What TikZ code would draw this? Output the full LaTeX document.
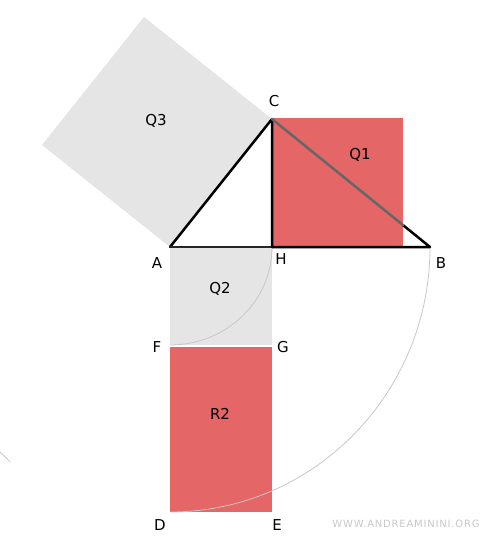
\documentclass[tikz,border=0pt]{standalone}
\usepackage{fontspec}
\setmainfont{DejaVu Sans}
\newfontfamily\wmfont[LetterSpace=8]{DejaVu Sans}
\definecolor{qred}{HTML}{E46666}
\definecolor{qgray}{HTML}{E5E5E5}
\definecolor{arcgray}{HTML}{C8C8C8}
\definecolor{wmgray}{HTML}{C8C8C8}
\begin{document}
\begin{tikzpicture}[x=1pt,y=-1pt,
  lbl/.style={font=\fontsize{15}{18}\selectfont, inner sep=0pt},
  tri/.style={line width=2.5pt, black, line cap=round, line join=round},
  arcline/.style={arcgray, line width=0.8pt}]
\useasboundingbox (0,0) rectangle (500,540);
% points
\coordinate (A) at (170,247);
\coordinate (B) at (430,247);
\coordinate (C) at (272,119);
\coordinate (H) at (272,247);
\coordinate (F) at (170,345);
\coordinate (G) at (272,345);
\coordinate (D) at (170,512);
\coordinate (E) at (272,512);
\coordinate (Q3a) at (42,145);
\coordinate (Q3b) at (144,17);
\coordinate (P) at (403,225.1);
\coordinate (K1) at (0,452);
\coordinate (K2) at (10,462);
% squares
\fill[qgray] (A) -- (Q3a) -- (Q3b) -- (C) -- cycle;
\fill[qred] (272,118) rectangle (403,247);
\fill[qgray] (170,248) rectangle (G);
\fill[qred] (170,347) rectangle (E);
% arcs
\draw[arcline] (H) arc[start angle=0, end angle=-90, x radius=102, y radius=-98];
\draw[arcline] (B) arc[start angle=0, end angle=-90, x radius=260, y radius=-265];
\draw[arcline] (K1) to[bend left=3] (K2);
% triangle
\draw[tri] (A) -- (C) -- (H);
\draw[tri, black!85] (A) -- (H);
\draw[tri] (H) -- (B) -- (P);
\draw[tri, black!60] (P) -- (C);
% labels
\node[lbl] (lC) at (274,101) {C};
\node[lbl] (lQ3) at (156,121) {Q3};
\node[lbl] (lQ1) at (360,155) {Q1};
\node[lbl] (lA) at (157,263) {A};
\node[lbl] (lH) at (281,259) {H};
\node[lbl] (lB) at (441,263) {B};
\node[lbl] (lQ2) at (220,289) {Q2};
\node[lbl] (lF) at (157,347) {F};
\node[lbl] (lG) at (283,347) {G};
\node[lbl] (lR2) at (220,414) {R2};
\node[lbl] (lD) at (160,525) {D};
\node[lbl] (lE) at (277,525) {E};
\node[inner sep=0pt, text=wmgray, font=\wmfont\fontsize{10}{12}\selectfont] (wm) at (406,524) {WWW.ANDREAMININI.ORG};
\end{tikzpicture}
\end{document}
